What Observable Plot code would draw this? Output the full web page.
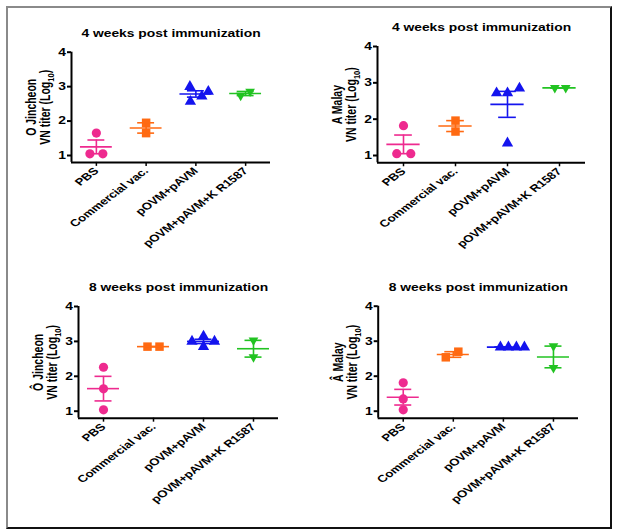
<!DOCTYPE html>
<html>
<head>
<meta charset="utf-8">
<script src="https://cdn.jsdelivr.net/npm/d3@7"></script>
<script src="https://cdn.jsdelivr.net/npm/@observablehq/plot@0.6"></script>
<style>
  html, body { margin: 0; padding: 0; background: #fff; }
  #page { position: relative; width: 622px; height: 532px; background: #fff; overflow: hidden; }
  #frame { position: absolute; left: 6px; top: 6px; width: 602px; height: 519px;
           border-top: 2px solid #8a8a8a; border-left: 2px solid #8a8a8a;
           border-right: 2px solid #111; border-bottom: 2px solid #111; }
  #page svg { position: absolute; left: 0; top: 0; }
</style>
</head>
<body>
<div id="page"><div id="frame"></div></div>
<script>
// ---------- data ----------
const groups = ["PBS", "Commercial vac.", "pOVM+pAVM", "pOVM+pAVM+K R1587"];
const titles = ["4 weeks post immunization", "4 weeks post immunization",
                "8 weeks post immunization", "8 weeks post immunization"];
const strains = ["O Jincheon", "A Malay", "Ô Jincheon", "Â Malay"];
const yUnitLabel = "VN titer (Log10)";
const yTicks = [1, 2, 3, 4];

// panel 1: 4 weeks, O Jincheon
const p1Values  = [[1.05, 1.05, 1.65], [1.95, 1.65], [3.0, 2.57, 2.72, 2.86], [2.74, 2.86]];
const p1Jitter  = [[-0.13, 0.13, 0], [0, 0], [-0.12, -0.11, 0.12, 0.25], [-0.1, 0.09]];
// panel 2: 4 weeks, A Malay
const p2Values  = [[1.05, 1.05, 1.82], [1.96, 1.66], [2.72, 2.72, 2.85, 1.34], [2.86, 2.86]];
const p2Jitter  = [[-0.13, 0.14, 0], [0, 0], [-0.21, 0, 0.23, 0], [-0.09, 0.12]];
// panel 3: 8 weeks, O Jincheon
const p3Values  = [[2.26, 1.64, 1.04], [2.85, 2.85], [3.0, 3.15, 2.85, 3.0], [3.03, 2.55]];
const p3Jitter  = [[0, 0, 0], [-0.12, 0.12], [-0.23, 0, 0, 0.22], [0, 0]];
// panel 4: 8 weeks, A Malay
const p4Values  = [[1.81, 1.35, 1.04], [2.54, 2.70], [2.83, 2.83, 2.83, 2.83], [2.86, 2.24]];
const p4Jitter  = [[0, 0, 0], [-0.15, 0.1], [-0.06, 0.1, 0.26, 0.42], [0, 0]];

// ---------- styles ----------
const colors = ["#ee2a8f", "#ff6a12", "#1414ee", "#22c322"];
const sqrt3 = Math.sqrt(3);
const triangleDown = {
  draw(context, size) {
    const y = -Math.sqrt(size / (sqrt3 * 3));
    context.moveTo(0, -y * 2);
    context.lineTo(-sqrt3 * y, y);
    context.lineTo(sqrt3 * y, y);
    context.closePath();
  }
};
const symbols = ["circle", "square", "triangle", triangleDown];
const radii = [4.6, 4.8, 4.2, 3.6];
const STRETCH = 1.32;
const FONT = "'Liberation Sans', Arial, Helvetica, sans-serif";

// panel layout (page pixels)
const layouts = [
  {left: 71,    right: 270, y4: 51.7,  y1: 155},
  {left: 377,   right: 585, y4: 46,    y1: 155},
  {left: 78,    right: 278, y4: 306,   y1: 410.7},
  {left: 377.7, right: 578, y4: 305.7, y1: 410.7}
];
const panels = [
  {values: p1Values, jitter: p1Jitter},
  {values: p2Values, jitter: p2Jitter},
  {values: p3Values, jitter: p3Jitter},
  {values: p4Values, jitter: p4Jitter}
];
const W = 622, H = 532, YMIN = 0.8;

const page = document.getElementById("page");

function widen(svg) {
  d3.select(svg).selectAll("text").each(function () {
    const t = this.getAttribute("transform");
    const sc = `scale(${STRETCH},1)`;
    if (t && /^\s*translate\(/.test(t)) {
      this.setAttribute("transform", t.replace(/(translate\([^)]*\))/, `$1 ${sc}`));
    } else if (t) {
      this.setAttribute("transform", `${sc} ${t}`);
    } else {
      const x = +this.getAttribute("x") || 0, y = +this.getAttribute("y") || 0;
      this.setAttribute("transform", `translate(${x},${y}) ${sc} translate(${-x},${-y})`);
    }
  });
}

// render the "10" of Log10 as a subscript
function subscript(svg) {
  d3.select(svg).selectAll("tspan").each(function () {
    if (this.textContent === yUnitLabel) {
      const s = d3.select(this);
      s.text("VN titer (Log");
      s.append("tspan").attr("font-size", "0.72em").attr("dy", 2.6).text("10");
      s.append("tspan").attr("dy", -2.6).text(")");
    }
  });
}

panels.forEach((p, k) => {
  const L = layouts[k];
  const unit = (L.y1 - L.y4) / 3;
  const baseline = L.y1 + (1 - YMIN) * unit;

  const pts = [];
  p.values.forEach((vals, g) => vals.forEach((v, j) => pts.push({g, x: g + p.jitter[g][j], v})));
  const stats = p.values.map((vals, g) => {
    const m = d3.mean(vals);
    const sem = vals.length > 1 ? d3.deviation(vals) / Math.sqrt(vals.length) : 0;
    return {g, mean: m, lo: m - sem, hi: m + sem};
  });

  const marks = [
    Plot.ruleX([-0.5], {y1: YMIN, y2: 4, stroke: "#000", strokeWidth: 2}),
    Plot.ruleY([YMIN], {x1: -0.5, x2: 3.5, stroke: "#000", strokeWidth: 2}),
    Plot.axisY({ticks: yTicks, tickSize: 4, tickPadding: 1.5, tickFormat: d => String(d),
                strokeWidth: 2, label: null, fontWeight: "bold", fontSize: 10.5}),
    Plot.axisX({ticks: [0, 1, 2, 3], tickFormat: i => groups[i], tickRotate: -45,
                tickSize: 4, tickPadding: 3, strokeWidth: 1.5, label: null, fontWeight: "bold"}),
    ...groups.map((_, g) => Plot.dot(pts.filter(d => d.g === g), {
      x: "x", y: "v", symbol: symbols[g], r: radii[g], fill: colors[g], stroke: "none"
    })),
    ...groups.map((_, g) => [
      Plot.ruleX([stats[g]], {x: "g", y1: "lo", y2: "hi", stroke: colors[g], strokeWidth: 1.6}),
      Plot.ruleY([stats[g]], {y: "hi", x1: d => d.g - 0.17, x2: d => d.g + 0.17, stroke: colors[g], strokeWidth: 1.6}),
      Plot.ruleY([stats[g]], {y: "lo", x1: d => d.g - 0.17, x2: d => d.g + 0.17, stroke: colors[g], strokeWidth: 1.6}),
      Plot.ruleY([stats[g]], {y: "mean", x1: d => d.g - 0.32, x2: d => d.g + 0.32, stroke: colors[g], strokeWidth: 1.6})
    ]).flat(),
    Plot.text([titles[k]], {frameAnchor: "top", dy: -19, lineAnchor: "middle",
                            fontSize: 10.5, fontWeight: "bold", fill: "#000"}),
    Plot.text([strains[k] + "\n" + yUnitLabel], {frameAnchor: "left", rotate: -90, dx: -33,
                            textAnchor: "middle", lineAnchor: "middle", lineHeight: 1.05,
                            fontSize: 10.5, fontWeight: "bold", fill: "#000"})
  ];

  const svg = Plot.plot({
    width: W, height: H,
    marginLeft: L.left, marginRight: W - L.right,
    marginTop: L.y4, marginBottom: H - baseline,
    x: {type: "linear", domain: [-0.5, 3.5]},
    y: {type: "linear", domain: [YMIN, 4]},
    style: {fontFamily: FONT, fontSize: "10px", fontWeight: "bold", color: "#000", background: "transparent"},
    marks
  });
  subscript(svg);
  widen(svg);
  page.appendChild(svg);
});
</script>
</body>
</html>
